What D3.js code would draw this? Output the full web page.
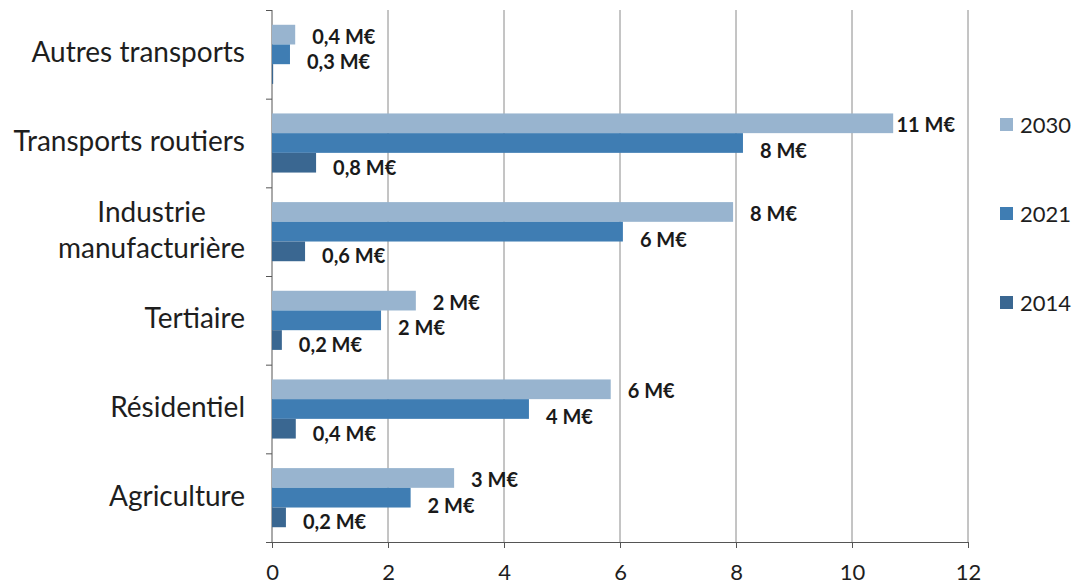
<!DOCTYPE html>
<html lang="fr">
<head>
<meta charset="utf-8">
<script src="https://cdn.jsdelivr.net/npm/d3@7"></script>
<style>
  html, body { margin: 0; padding: 0; background: #ffffff; }
  svg { display: block; font-family: Lato, "Open Sans", sans-serif; }
</style>
</head>
<body>
<svg id="chart" width="1077" height="584"></svg>
<script>
// Secteurs (de haut en bas)
const categories = [
  "Autres transports",
  "Transports routiers",
  "Industrie manufacturière",
  "Tertiaire",
  "Résidentiel",
  "Agriculture"
];

// Séries, en millions d'euros
const seriesNames = ["2030", "2021", "2014"];
const values2030 = [0.40, 10.71, 7.95, 2.48, 5.84, 3.14];
const values2021 = [0.31, 8.12, 6.05, 1.88, 4.43, 2.39];
const values2014 = [0.02, 0.76, 0.57, 0.17, 0.41, 0.24];

// Graduations de l'axe des abscisses
const xTicks = [0, 2, 4, 6, 8, 10, 12];

const seriesValues = { "2030": values2030, "2021": values2021, "2014": values2014 };

// Aspect de chaque série
const seriesStyle = {
  "2030": { fill: "#98b4cf", labelDy: 2 },
  "2021": { fill: "#3f7db3", labelDy: 8 },
  "2014": { fill: "#3a6791", labelDy: 5 }
};

const svg = d3.select("#chart");
const plot = { left: 272, right: 968, top: 10, bottom: 542 };

const x = d3.scaleLinear().domain([0, 12]).range([plot.left, plot.right]);
const y = d3.scaleBand().domain(categories).range([plot.top, plot.bottom]).padding(0);
const yInner = d3.scaleBand().domain(seriesNames)
  .range([0, y.bandwidth()]).paddingInner(0).paddingOuter(0.75);

// Libellé de valeur : entier au-delà de 1 M€, une décimale sinon
function fmtLabel(v) {
  const s = v >= 1 ? d3.format(".0f")(v) : d3.format(".1f")(v);
  if (+s === 0) return null;
  return s.replace(".", ",") + " M€";
}

// Quadrillage vertical
svg.append("g")
  .selectAll("line")
  .data(xTicks.filter(t => t > 0))
  .join("line")
  .attr("x1", d => x(d)).attr("x2", d => x(d))
  .attr("y1", plot.top).attr("y2", plot.bottom)
  .attr("stroke", "#8a8a8a").attr("stroke-width", 1);

// Axe des abscisses
const xAxis = d3.axisBottom(x).tickValues(xTicks).tickSize(6).tickPadding(0).tickFormat(d3.format("d"));
const gx = svg.append("g").attr("transform", `translate(0,${plot.bottom})`).call(xAxis);
gx.select(".domain").attr("d", `M${plot.left - 6},0.5H${plot.right}`).attr("stroke", "#555");
gx.selectAll(".tick line").attr("stroke", "#555");
gx.selectAll(".tick text")
  .attr("y", 38).attr("dy", null)
  .attr("font-size", 22).attr("fill", "#1e1e1e")
  .attr("font-family", "Lato, sans-serif");

// Axe des ordonnées : ligne et repères aux limites des catégories
const gy = svg.append("g");
gy.append("line")
  .attr("x1", plot.left).attr("x2", plot.left)
  .attr("y1", plot.top).attr("y2", plot.bottom)
  .attr("stroke", "#555");
gy.selectAll("line.tk")
  .data(categories.map(c => y(c)))
  .join("line").attr("class", "tk")
  .attr("x1", plot.left - 6).attr("x2", plot.left)
  .attr("y1", d => d + 0.5).attr("y2", d => d + 0.5)
  .attr("stroke", "#555");

// Libellés des catégories
const catLines = {
  "Industrie manufacturière": ["Industrie", "manufacturière"]
};
const catG = svg.append("g").attr("font-size", 28).attr("fill", "#1e1e1e");
categories.forEach(c => {
  const cy = y(c) + y.bandwidth() / 2;
  const lines = catLines[c] || [c];
  const lh = 36;
  if (lines.length === 1) {
    catG.append("text").attr("x", 245).attr("y", cy + 8)
      .attr("text-anchor", "end").text(c);
  } else {
    // bloc aligné à droite, lignes centrées entre elles
    const t = catG.append("text").attr("text-anchor", "middle");
    lines.forEach((ln, i) => {
      t.append("tspan").attr("x", 0)
        .attr("y", cy + 8 + (i - (lines.length - 1) / 2) * lh).text(ln);
    });
    const bb = t.node().getBBox();
    t.attr("transform", `translate(${245 - bb.width / 2},0)`);
  }
});

// Barres
const groups = svg.append("g").selectAll("g")
  .data(categories)
  .join("g")
  .attr("transform", c => `translate(0,${y(c)})`);

groups.selectAll("rect")
  .data((c, i) => seriesNames.map(s => ({ s, v: seriesValues[s][i] })))
  .join("rect")
  .attr("x", x(0))
  .attr("y", d => yInner(d.s))
  .attr("width", d => x(d.v) - x(0))
  .attr("height", yInner.bandwidth())
  .attr("fill", d => seriesStyle[d.s].fill);

// Étiquettes de valeur, ramenées vers la barre si elles dépassent la zone de tracé
groups.selectAll("text")
  .data((c, i) => seriesNames.map(s => ({ s, v: seriesValues[s][i] })).filter(d => fmtLabel(d.v)))
  .join("text")
  .attr("y", d => yInner(d.s) + yInner.bandwidth() / 2 + 7 + seriesStyle[d.s].labelDy)
  .attr("font-size", 20).attr("font-weight", 700).attr("fill", "#1a1a1a")
  .text(d => fmtLabel(d.v))
  .attr("x", function (d) {
    const w = this.getComputedTextLength();
    return Math.min(x(d.v) + 17, plot.right - 13 - w);
  });

// Légende
const legend = svg.append("g").selectAll("g")
  .data(seriesNames)
  .join("g")
  .attr("transform", (s, i) => `translate(1000,${125 + i * 89})`);
legend.append("rect")
  .attr("x", 0).attr("y", -7).attr("width", 13).attr("height", 13)
  .attr("fill", s => seriesStyle[s].fill);
legend.append("text")
  .attr("x", 20).attr("y", 8)
  .attr("font-size", 22).attr("fill", "#1e1e1e")
  .text(s => s);
</script>
</body>
</html>
